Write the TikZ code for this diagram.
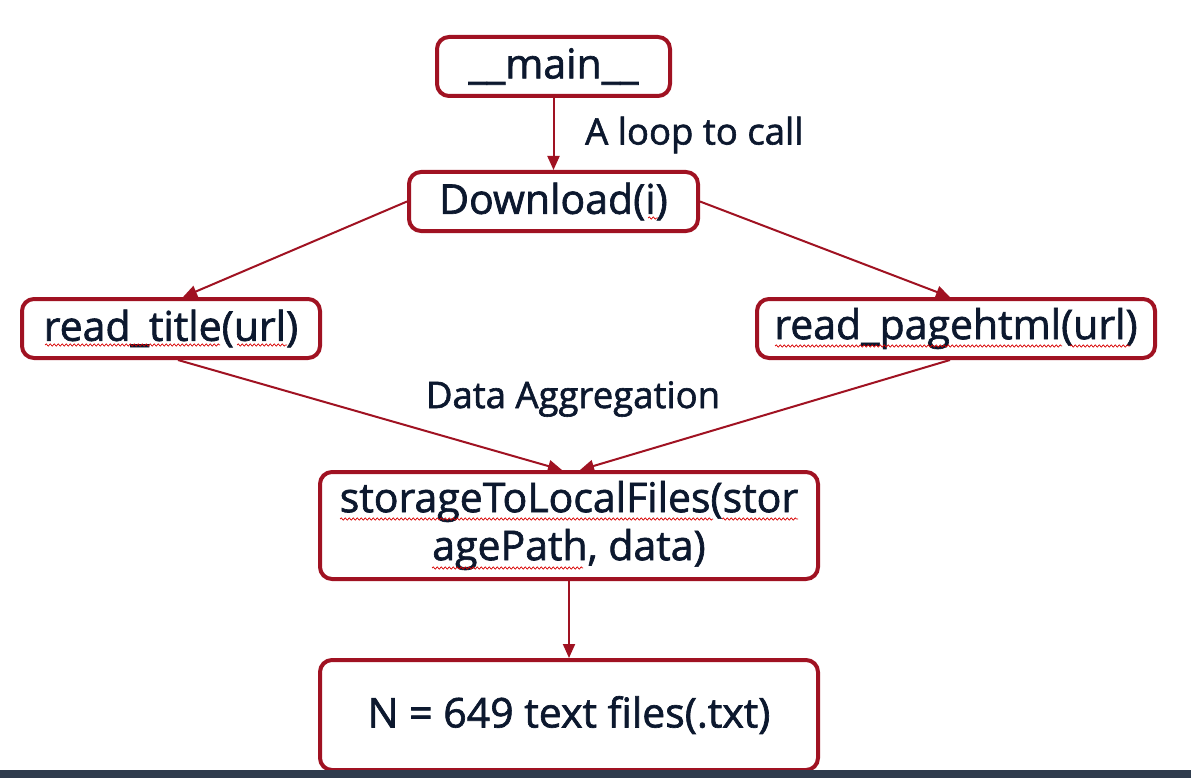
\documentclass[tikz,border=0pt]{standalone}
\usepackage{fontspec}
\setmainfont{Open Sans}[FakeBold=1.6]
\usetikzlibrary{arrows.meta,decorations.pathmorphing}
\definecolor{boxred}{RGB}{160,18,34}
\definecolor{ink}{RGB}{12,24,46}
\definecolor{barcol}{RGB}{47,60,77}
\begin{document}
\begin{tikzpicture}[x=1pt,y=-1pt,
  box/.style={draw=boxred, line width=4pt, rounded corners=12pt, fill=white, text=ink,
    font=\fontsize{41}{48}\selectfont, inner sep=0pt, align=center},
  conn/.style={draw=boxred, line width=2pt, -{Triangle[length=14pt,width=12pt]}},
  lbl/.style={text=ink, font=\fontsize{36.5}{42}\selectfont, inner sep=0pt},
  wavy/.style={draw=red!85!black, line width=0.7pt, decorate,
    decoration={snake, amplitude=1.1pt, segment length=4pt}}]
\useasboundingbox (0,0) rectangle (1191,778);
\fill[white] (0,0) rectangle (1191,778);

\node[box, minimum width=233pt, minimum height=59pt] (main) at (553.5,66.5) {\_\_main\_\_};
\node[box, minimum width=289pt, minimum height=59pt] (dl) at (553.5,201.5) {Download(i)};
\node[box, minimum width=298pt, minimum height=59pt] (rt) at (171,328.5) {read\_title(url)};
\node[box, minimum width=398pt, minimum height=59pt] (pg) at (956,328.5) {read\_pagehtml(url)};
\node[box, minimum width=498pt, minimum height=107pt] (st) at (569,525.5) {storageToLocalFiles(stor\\agePath, data)};
\node[box, minimum width=498pt, minimum height=110pt] (nf) at (569,715) {N = 649 text files(.txt)};

\draw[conn] (main) -- (dl);
\draw[conn] (dl.west) -- ([xshift=12pt]rt.north);
\draw[conn] (dl.east) -- ([xshift=-6pt]pg.north);
\draw[conn] ([xshift=7pt]rt.south) -- ([xshift=-7pt]st.north);
\draw[conn] ([xshift=-6pt]pg.south) -- ([xshift=11pt]st.north);
\draw[conn] (st) -- (nf);

\node[lbl, anchor=west] (loop) at (585,135) {A loop to call};
\node[lbl] (agg) at (573,399) {Data Aggregation};

% spell-check underlines
\draw[wavy] (648,218) -- (658,218);
\draw[wavy] (45,345) -- (220,345);
\draw[wavy] (237,345) -- (287,345);
\draw[wavy] (775,346) -- (1062,346);
\draw[wavy] (1070,346) -- (1130,346);
\draw[wavy] (340,519) -- (713,519);
\draw[wavy] (722,519) -- (798,519);
\draw[wavy] (432,568) -- (583,568);

\fill[barcol] (0,770) rectangle (1191,778);
\end{tikzpicture}
\end{document}
